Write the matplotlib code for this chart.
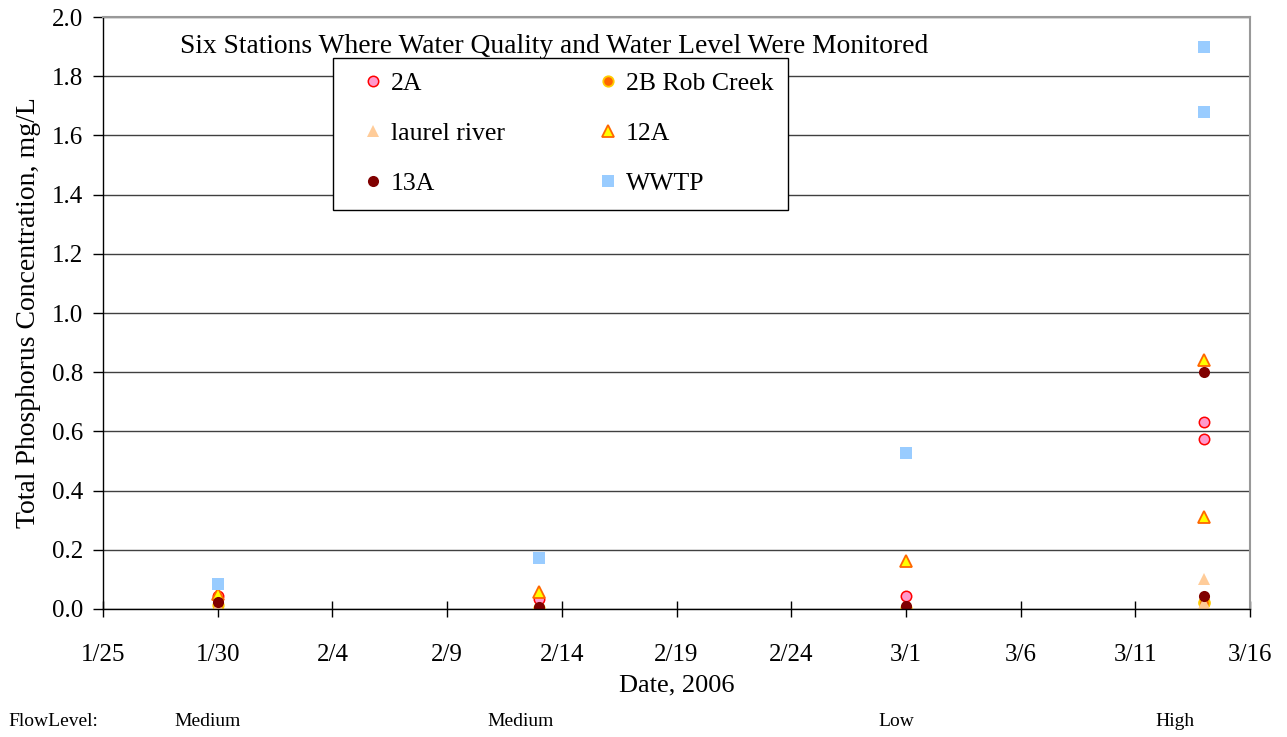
import datetime as dt
import matplotlib
matplotlib.use("Agg")
import matplotlib.pyplot as plt
import matplotlib.dates as mdates
from matplotlib.ticker import FuncFormatter, MultipleLocator, FixedLocator

plt.rcParams['font.family'] = ['Liberation Serif', 'DejaVu Serif']

# sample dates, 2006
dates = [dt.datetime(2006, 1, 30), dt.datetime(2006, 2, 13), dt.datetime(2006, 3, 1),
         dt.datetime(2006, 3, 14), dt.datetime(2006, 3, 14)]

# total phosphorus, mg/L (two samples on 3/14)
tp_2a = [0.045, 0.035, 0.045, 0.633, 0.574]
tp_2b = [0.015, 0.005, 0.005, 0.025, 0.020]
tp_laurel = [0.010, 0.005, 0.005, 0.100, 0.020]
tp_12a = [0.050, 0.058, 0.162, 0.840, 0.312]
tp_13a = [0.025, 0.008, 0.010, 0.800, 0.045]
tp_wwtp = [0.085, 0.173, 0.526, 1.900, 1.680]

flow_levels = ["Medium", "Medium", "Low", "High"]
flow_x = [208, 521, 896, 1175]

fig = plt.figure(figsize=(12.87, 7.37), dpi=100)
ax = fig.add_axes([0.0800, 0.1737, 0.8913, 0.8032])

h_2a, = ax.plot(dates, tp_2a, 'o', ms=7.5, mfc='#FF99CC', mec='#FF0000', mew=1.1, label='2A')
h_2b, = ax.plot(dates, tp_2b, 'o', ms=7.5, mfc='#FF6600', mec='#FFCC00', mew=1.3, label='2B Rob Creek')
h_lr, = ax.plot(dates, tp_laurel, '^', ms=8.5, mfc='#FFCC99', mec='#FFCC99', mew=0, label='laurel river')
h_12, = ax.plot(dates, tp_12a, '^', ms=8, mfc='#FFFF00', mec='#FF6600', mew=1.3, label='12A')
h_13, = ax.plot(dates, tp_13a, 'o', ms=8, mfc='#800000', mec='#800000', mew=0, label='13A')
h_ww, = ax.plot(dates, tp_wwtp, 's', ms=8, mfc='#99CCFF', mec='#99CCFF', mew=0, label='WWTP')

ax.set_xlim(dt.datetime(2006, 1, 25), dt.datetime(2006, 3, 16))
ax.set_ylim(0, 2.0)
xt = [mdates.date2num(dt.datetime(2006, 1, 25) + dt.timedelta(days=5 * i)) for i in range(11)]
ax.xaxis.set_major_locator(FixedLocator(xt))
ax.xaxis.set_major_formatter(FuncFormatter(
    lambda v, p: "%d/%d" % (mdates.num2date(v).month, mdates.num2date(v).day)))
ax.yaxis.set_major_locator(MultipleLocator(0.2))
ax.yaxis.set_major_formatter(FuncFormatter(lambda v, p: "%.1f" % v))

ax.grid(axis='y', color='#404040', lw=1)
ax.set_axisbelow(True)
for s in ['top', 'right']:
    ax.spines[s].set_color('#999999')
    ax.spines[s].set_linewidth(1.5)
for s in ['left', 'bottom']:
    ax.spines[s].set_color('black')
    ax.spines[s].set_linewidth(1)

ax.tick_params(axis='x', direction='inout', length=12, width=1, labelsize=18, pad=19)
ax.tick_params(axis='y', direction='out', length=7, width=1, labelsize=18, pad=7)

ax.set_xlabel("Date, 2006", fontsize=19, labelpad=6)
ax.set_ylabel("Total Phosphorus Concentration, mg/L", fontsize=20, labelpad=8)

ax.text(0.067, 0.951, "Six Stations Where Water Quality and Water Level Were Monitored",
        transform=ax.transAxes, fontsize=19.8, va='center', ha='left')

# row-wise legend order like the original
handles = [h_2a, h_lr, h_13, h_2b, h_12, h_ww]
leg = ax.legend(handles=handles, labels=[h.get_label() for h in handles],
                loc='upper left', bbox_to_anchor=(0.2005, 0.931), ncol=2, fontsize=18.5,
                frameon=True, fancybox=False, edgecolor='black', framealpha=1,
                handlelength=2.0, handletextpad=-0.3, columnspacing=3.0,
                labelspacing=1.05, borderpad=0.56, borderaxespad=0)
leg.get_frame().set_linewidth(1)

fig.text(8 / 1287, 1 - 722 / 737, "FlowLevel:", fontsize=14, va='center', ha='left')
for x, lab in zip(flow_x, flow_levels):
    fig.text(x / 1287, 1 - 722 / 737, lab, fontsize=14, va='center', ha='center')

fig.savefig("out.png", dpi=100)
